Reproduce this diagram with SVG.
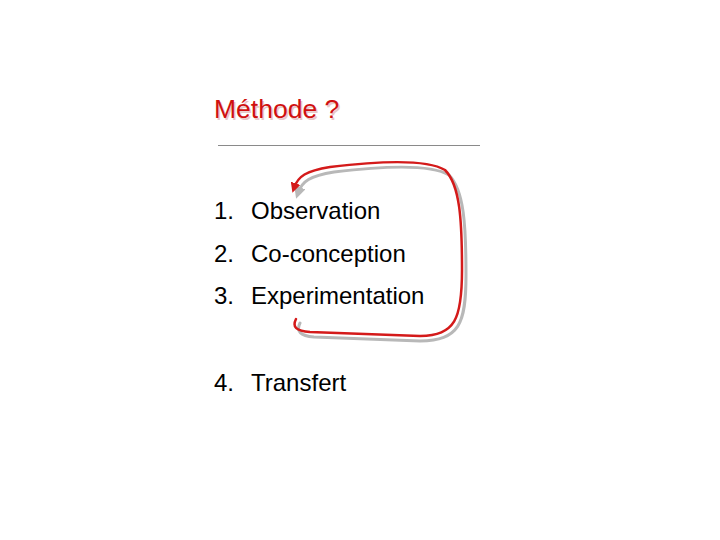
<svg xmlns="http://www.w3.org/2000/svg" width="720" height="540" viewBox="0 0 720 540">
<style>
.t{font-family:"Liberation Sans",Arial,sans-serif;font-size:24px;fill:#000}
.title{font-family:"Liberation Sans",Arial,sans-serif;font-size:26.5px;fill:#d01010}
.ts{font-family:"Liberation Sans",Arial,sans-serif;font-size:26.5px;fill:#e8c8c8}
.red{fill:none;stroke:#d41a1a;stroke-width:2.5;stroke-linecap:round}
.gray{fill:none;stroke:#b8b8b8;stroke-width:3;stroke-linecap:round}
</style>
<defs>
<marker id="ar" viewBox="0 0 10 10" refX="5" refY="5" markerWidth="4" markerHeight="4" orient="auto"><path d="M0,0 L10,5 L0,10 z" fill="#d41a1a"/></marker>
<marker id="ag" viewBox="0 0 10 10" refX="5" refY="5" markerWidth="4" markerHeight="4" orient="auto"><path d="M0,0 L10,5 L0,10 z" fill="#b8b8b8"/></marker>
</defs>
<rect width="720" height="540" fill="#fff"/>
<g id="title">
<text class="ts" x="215.5" y="119.5">Méthode ?</text>
<text class="title" x="214" y="118">Méthode ?</text>
<line x1="218" y1="145.5" x2="480" y2="145.5" stroke="#8a8a8a" stroke-width="1"/>
</g>
<g id="connectors">
<path class="gray" marker-end="url(#ag)" d="M300,323 C296,331 300,336 314,337 L420,341 C459,340 466,325 466,275 C466,225 464,190 449,175 C434,166 400,164 334,172 C310,176 302,181 298,193"/>
<path class="red" marker-end="url(#ar)" d="M296,319 C292,327 296,331 310,332 L420,336 C455,335 462,320 462,270 C462,220 460,185 445,170 C430,161 396,159 330,167 C306,171 298,176 294,188"/>
</g>
<g id="item1"><text class="t" x="214" y="219">1.</text><text class="t" x="251" y="219">Observation</text></g>
<g id="item2"><text class="t" x="214" y="262">2.</text><text class="t" x="251" y="262">Co-conception</text></g>
<g id="item3"><text class="t" x="214" y="304">3.</text><text class="t" x="251" y="304">Experimentation</text></g>
<g id="item4"><text class="t" x="214" y="391">4.</text><text class="t" x="251" y="391">Transfert</text></g>
</svg>
